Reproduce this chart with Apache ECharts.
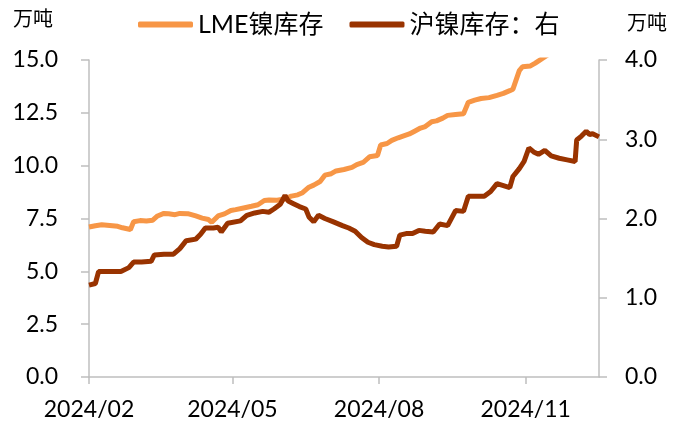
<!DOCTYPE html>
<html><head><meta charset="utf-8">
<script src="https://cdn.jsdelivr.net/npm/echarts@6/dist/echarts.min.js"></script>
<style>html,body{margin:0;padding:0;background:#fff}#c{width:682px;height:425px}</style>
</head><body><div id="c"></div>
<script>
const seriesNames = ['LME镍库存', '沪镍库存：右'];
const unitLabel = '万吨';
const xTickDates = ['2024-02-01', '2024-05-01', '2024-08-01', '2024-11-01'];
const xMin = '2024-02-01', xMax = '2024-12-17';
const leftTicks = [0, 2.5, 5, 7.5, 10, 12.5, 15];
const rightTicks = [0, 1, 2, 3, 4];

const lmeDates = ['2024-02-01','2024-02-05','2024-02-09','2024-02-14','2024-02-19','2024-02-22','2024-02-27','2024-02-28','2024-02-29','2024-03-04','2024-03-08','2024-03-12','2024-03-15','2024-03-19','2024-03-22','2024-03-26','2024-03-29','2024-04-03','2024-04-08','2024-04-12','2024-04-16','2024-04-18','2024-04-22','2024-04-26','2024-04-30','2024-05-03','2024-05-08','2024-05-13','2024-05-17','2024-05-21','2024-05-24','2024-05-29','2024-06-03','2024-06-07','2024-06-11','2024-06-14','2024-06-18','2024-06-21','2024-06-25','2024-06-28','2024-07-02','2024-07-05','2024-07-10','2024-07-15','2024-07-18','2024-07-22','2024-07-26','2024-07-31','2024-08-02','2024-08-06','2024-08-09','2024-08-13','2024-08-16','2024-08-20','2024-08-23','2024-08-27','2024-08-30','2024-09-03','2024-09-06','2024-09-10','2024-09-13','2024-09-18','2024-09-23','2024-09-24','2024-09-26','2024-09-30','2024-10-04','2024-10-09','2024-10-14','2024-10-18','2024-10-22','2024-10-24','2024-10-28','2024-10-30','2024-11-04','2024-11-07','2024-11-11','2024-11-15','2024-11-20'];
const lmeValues = [7.10,7.16,7.20,7.17,7.13,7.06,6.98,7.00,7.35,7.40,7.38,7.42,7.62,7.74,7.72,7.68,7.74,7.73,7.62,7.52,7.45,7.32,7.62,7.72,7.88,7.92,8.00,8.08,8.15,8.35,8.38,8.36,8.42,8.56,8.62,8.72,8.98,9.08,9.25,9.55,9.62,9.75,9.82,9.92,10.05,10.15,10.42,10.48,10.98,11.05,11.20,11.32,11.40,11.50,11.62,11.78,11.85,12.08,12.12,12.25,12.38,12.42,12.46,12.48,13.00,13.10,13.18,13.22,13.33,13.42,13.55,13.62,14.50,14.68,14.72,14.85,15.05,15.25,15.40];

const shfeDates = ['2024-02-01','2024-02-05','2024-02-07','2024-02-14','2024-02-21','2024-02-26','2024-02-29','2024-03-05','2024-03-11','2024-03-13','2024-03-19','2024-03-25','2024-03-29','2024-04-02','2024-04-08','2024-04-11','2024-04-14','2024-04-19','2024-04-22','2024-04-24','2024-04-28','2024-05-06','2024-05-10','2024-05-15','2024-05-20','2024-05-24','2024-05-27','2024-05-31','2024-06-03','2024-06-05','2024-06-08','2024-06-12','2024-06-16','2024-06-18','2024-06-21','2024-06-24','2024-06-28','2024-07-03','2024-07-09','2024-07-13','2024-07-17','2024-07-21','2024-07-25','2024-07-29','2024-08-03','2024-08-07','2024-08-12','2024-08-14','2024-08-18','2024-08-22','2024-08-26','2024-08-30','2024-09-04','2024-09-08','2024-09-13','2024-09-18','2024-09-23','2024-09-26','2024-10-01','2024-10-06','2024-10-10','2024-10-14','2024-10-22','2024-10-24','2024-10-28','2024-10-31','2024-11-03','2024-11-06','2024-11-09','2024-11-13','2024-11-17','2024-11-22','2024-11-27','2024-12-02','2024-12-03','2024-12-06','2024-12-09','2024-12-11','2024-12-13','2024-12-17'];
const shfeValues = [1.16,1.18,1.33,1.33,1.33,1.38,1.45,1.45,1.46,1.54,1.55,1.55,1.62,1.72,1.74,1.80,1.88,1.88,1.89,1.83,1.94,1.97,2.04,2.07,2.09,2.08,2.12,2.18,2.29,2.22,2.19,2.15,2.12,2.02,1.96,2.04,2.00,1.96,1.91,1.88,1.84,1.76,1.70,1.67,1.65,1.64,1.65,1.79,1.81,1.81,1.85,1.84,1.83,1.93,1.91,2.10,2.09,2.28,2.28,2.28,2.34,2.44,2.39,2.53,2.63,2.72,2.89,2.84,2.81,2.86,2.79,2.76,2.74,2.72,2.99,3.04,3.10,3.06,3.07,3.03];

const toTs = s => { const p = s.split('-').map(Number); return new Date(p[0], p[1]-1, p[2]).getTime(); };
const FONT = 'Lato, "Noto Sans CJK SC", sans-serif';
const CJK = '"Noto Sans CJK SC", sans-serif';
const axisColor = '#BFBFBF';

const chart = echarts.init(document.getElementById('c'), null, {renderer: 'canvas'});
chart.setOption({
  animation: false,
  grid: {left: 89, right: 83, top: 60, bottom: 48, containLabel: false},
  legend: {
    left: 133, top: 7, itemGap: 26, itemWidth: 55, itemHeight: 6, icon: 'roundRect',
    textStyle: {fontFamily: FONT, fontSize: 25, color: '#000'},
    data: seriesNames
  },
  graphic: [
    {type: 'text', left: 13, top: 8, style: {text: unitLabel, font: '20px ' + CJK, fill: '#000'}},
    {type: 'text', left: 627, top: 12, style: {text: unitLabel, font: '20px ' + CJK, fill: '#000'}}
  ],
  xAxis: {
    type: 'value', min: toTs(xMin), max: toTs(xMax),
    axisLine: {lineStyle: {color: axisColor, width: 1.5}},
    axisTick: {show: true, length: 7, lineStyle: {color: axisColor, width: 1.5}, customValues: xTickDates.map(toTs)},
    axisLabel: {
      customValues: xTickDates.map(toTs), showMinLabel: true, margin: 21,
      fontFamily: FONT, fontSize: 23, color: '#000',
      formatter: v => { const d = new Date(v); return d.getFullYear() + '/' + String(d.getMonth()+1).padStart(2,'0'); }
    },
    splitLine: {show: false}
  },
  yAxis: [
    {
      type: 'value', min: leftTicks[0], max: leftTicks[leftTicks.length-1], interval: leftTicks[1]-leftTicks[0],
      axisLine: {show: true, lineStyle: {color: axisColor, width: 1.5}},
      axisTick: {show: true, length: 8, lineStyle: {color: axisColor, width: 1.5}},
      axisLabel: {fontFamily: FONT, fontSize: 23, color: '#000', margin: 31, formatter: v => v.toFixed(1)},
      splitLine: {show: false}
    },
    {
      type: 'value', min: rightTicks[0], max: rightTicks[rightTicks.length-1], interval: rightTicks[1]-rightTicks[0],
      position: 'right',
      axisLine: {show: true, lineStyle: {color: axisColor, width: 1.5}},
      axisTick: {show: true, length: 8, lineStyle: {color: axisColor, width: 1.5}},
      axisLabel: {fontFamily: FONT, fontSize: 23, color: '#000', margin: 26, formatter: v => v.toFixed(1)},
      splitLine: {show: false}
    }
  ],
  series: [
    {
      name: seriesNames[0], type: 'line', yAxisIndex: 0, showSymbol: false, clip: true,
      lineStyle: {color: '#F79646', width: 5}, itemStyle: {color: '#F79646'},
      data: lmeDates.map((d, i) => [toTs(d), lmeValues[i]])
    },
    {
      name: seriesNames[1], type: 'line', yAxisIndex: 1, showSymbol: false, clip: true,
      lineStyle: {color: '#993300', width: 5}, itemStyle: {color: '#993300'},
      data: shfeDates.map((d, i) => [toTs(d), shfeValues[i]])
    }
  ]
});
</script>
</body></html>
